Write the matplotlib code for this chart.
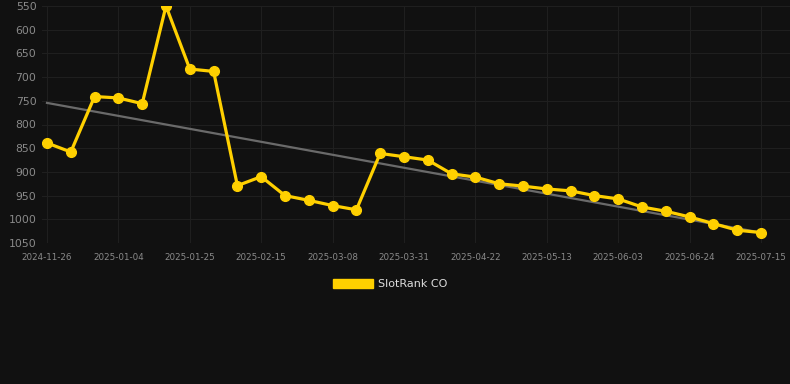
import matplotlib
matplotlib.use("Agg")
import matplotlib.pyplot as plt
import numpy as np

DATES = [
    "2024-11-26", "2024-12-03", "2024-12-10", "2025-01-04", "2025-01-11",
    "2025-01-18", "2025-01-25", "2025-02-01", "2025-02-08", "2025-02-15",
    "2025-02-22", "2025-03-01", "2025-03-08", "2025-03-16", "2025-03-23",
    "2025-03-31", "2025-04-07", "2025-04-14", "2025-04-22", "2025-04-29",
    "2025-05-06", "2025-05-13", "2025-05-20", "2025-05-27", "2025-06-03",
    "2025-06-10", "2025-06-17", "2025-06-24", "2025-07-01", "2025-07-08",
    "2025-07-15",
]
RANK = [
    839, 858, 741, 744, 756, 550, 683, 688, 929, 910,
    950, 960, 971, 980, 861, 868, 875, 904, 911, 925,
    930, 936, 940, 950, 957, 974, 983, 995, 1009, 1023,
    1028,
]
SERIES_LABEL = "SlotRank CO"
Y_TICKS = list(range(550, 1051, 50))

BG = "#111111"
LINE_COLOR = "#FFD000"
TREND_COLOR = "#6a6a6a"
GRID_COLOR = "#1f1f1f"
TICK_COLOR = "#8a8a8a"

fig = plt.figure(figsize=(7.9, 3.84), dpi=100, facecolor=BG)
ax = fig.add_axes([42 / 790, 1 - 243 / 384, (790 - 42) / 790, (243 - 6) / 384])
ax.set_facecolor(BG)

x = np.arange(len(RANK))
coef = np.polyfit(x, RANK, 1)
ax.plot(x, np.polyval(coef, x), color=TREND_COLOR, linewidth=1.6, zorder=2)
ax.plot(x, RANK, color=LINE_COLOR, linewidth=2.3, marker="o", markersize=7,
        zorder=3, label=SERIES_LABEL)

ax.set_ylim(1050, 550)
ax.set_yticks(Y_TICKS)
ax.set_xlim(-0.21, 31.22)
ax.set_xticks(x[::3])
ax.set_xticklabels(DATES[::3])

ax.grid(True, color=GRID_COLOR, linewidth=0.8, zorder=0)
ax.tick_params(axis="y", colors=TICK_COLOR, labelsize=7.8, length=0, pad=4)
ax.tick_params(axis="x", colors=TICK_COLOR, labelsize=6.3, length=0, pad=7)
for spine in ax.spines.values():
    spine.set_visible(False)

leg = fig.legend(
    handles=[plt.Rectangle((0, 0), 1, 1, color=LINE_COLOR)],
    labels=[SERIES_LABEL],
    loc="center",
    bbox_to_anchor=(390 / 790, 1 - 284 / 384),
    frameon=False,
    handlelength=3.6,
    handleheight=0.9,
    handletextpad=0.5,
    fontsize=8,
)
for text in leg.get_texts():
    text.set_color("#dddddd")

fig.savefig("out.png", dpi=100, facecolor=BG)
